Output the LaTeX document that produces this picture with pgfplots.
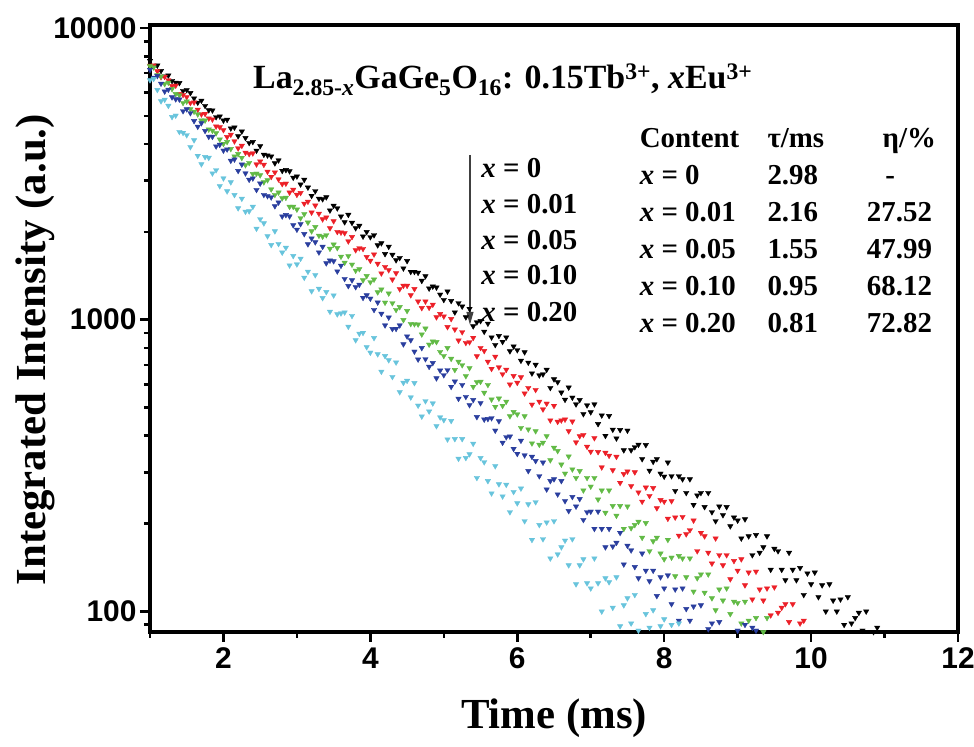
\documentclass[border=0pt]{standalone}
\usepackage{fontspec}
\setmainfont{Liberation Serif}
\newfontfamily\sansfnt{Liberation Sans}
\usepackage{pgfplots}
\pgfplotsset{compat=1.18}
\usetikzlibrary{arrows.meta}
\definecolor{cBlack}{RGB}{0,0,0}
\definecolor{cRed}{RGB}{236,32,40}
\definecolor{cGreen}{RGB}{98,186,70}
\definecolor{cBlue}{RGB}{42,62,158}
\definecolor{cCyan}{RGB}{104,196,220}
\begin{document}
\begin{tikzpicture}
\begin{axis}[
  scale only axis, width=808bp, height=607bp,
  xmin=1, xmax=12, ymode=log, ymin=85, ymax=10240,
  xtick={2,4,6,8,10,12}, xticklabels={2,4,6,8,10,12},
  minor xtick={1,3,5,7,9,11},
  ytick={100,1000,10000}, yticklabels={100,1000,10000},
  minor ytick={90,200,300,400,500,600,700,800,900,2000,3000,4000,5000,6000,7000,8000,9000},
  tick pos=left, tick align=outside,
  major tick length=10bp, minor tick length=6bp,
  tick style={line width=2.6bp, black},
  axis line style={line width=3.2bp},
  every outer x axis line/.append style={line width=3.2bp},
  every outer y axis line/.append style={line width=3.2bp},
  axis on top,
  tick label style={font=\sansfnt\bfseries\fontsize{30}{30}\selectfont},
  xticklabel style={yshift=-2bp},
  xlabel={Time (ms)}, ylabel={Integrated Intensity (a.u.)},
  every axis x label/.style={at={(rel axis cs:0.5,0)}, yshift=-86bp, anchor=center, font=\bfseries\fontsize{43}{43}\selectfont},
  every axis y label/.style={at={(rel axis cs:0,0.465)}, xshift=-115bp, rotate=90, anchor=center, font=\bfseries\fontsize{43}{43}\selectfont},
  mark size=3.1bp,
]
\coordinate (O) at (rel axis cs:0,0);
% x = 0 (black)
\addplot[only marks, mark=triangle*, mark options={rotate=180, fill=cBlack, draw=cBlack}] coordinates {
(1.00,7720)(1.05,7390)(1.10,7440)(1.15,7130)(1.20,6830)(1.25,6880)(1.30,6590)(1.35,6500)(1.40,6480)(1.45,6090)
(1.50,6130)(1.55,5990)(1.60,5740)(1.65,5550)(1.70,5640)(1.75,5410)(1.80,5230)(1.85,5220)(1.90,4950)(1.95,4980)
(2.00,4820)(2.05,4850)(2.10,4530)(2.15,4560)(2.20,4260)(2.25,4420)(2.30,4200)(2.35,4040)(2.40,4070)(2.45,3800)
(2.50,3940)(2.55,3680)(2.60,3660)(2.65,3630)(2.70,3440)(2.75,3520)(2.80,3240)(2.85,3260)(2.90,3230)(2.95,3070)
(3.00,3100)(3.05,2910)(3.10,3020)(3.15,2840)(3.20,2660)(3.25,2760)(3.30,2600)(3.35,2590)(3.40,2630)(3.45,2370)
(3.50,2460)(3.55,2410)(3.60,2260)(3.65,2160)(3.70,2290)(3.75,2150)(3.80,2060)(3.85,2100)(3.90,1930)(3.95,2000)
(4.00,1920)(4.05,1950)(4.10,1800)(4.15,1830)(4.20,1680)(4.25,1780)(4.30,1670)(4.35,1600)(4.40,1630)(4.45,1500)
(4.50,1590)(4.55,1460)(4.60,1460)(4.65,1450)(4.70,1360)(4.75,1410)(4.80,1280)(4.85,1300)(4.90,1290)(4.95,1220)
(5.00,1170)(5.05,1250)(5.10,1160)(5.15,1060)(5.20,1140)(5.25,1110)(5.30,1020)(5.35,1090)(5.40,950)(5.45,980)
(5.50,990)(5.55,910)(5.60,970)(5.65,870)(5.70,820)(5.75,880)(5.80,840)(5.85,870)(5.90,780)(5.95,810)
(6.00,787)(6.05,724)(6.10,774)(6.15,713)(6.20,655)(6.25,701)(6.30,645)(6.35,650)(6.40,674)(6.45,584)
(6.50,625)(6.55,611)(6.60,563)(6.65,532)(6.70,586)(6.75,541)(6.80,513)(6.85,531)(6.90,475)(6.95,509)
(7.00,482)(7.05,513)(7.10,439)(7.15,470)(7.20,400)(7.25,468)(7.30,420)(7.35,392)(7.40,419)(7.45,357)
(7.50,417)(7.55,357)(7.60,366)(7.65,373)(7.70,333)(7.75,372)(7.80,304)(7.85,326)(7.90,333)(7.95,297)
(8.00,290)(8.05,324)(8.10,291)(8.15,259)(8.20,291)(8.25,284)(8.30,255)(8.35,284)(8.40,232)(8.45,250)
(8.50,255)(8.55,228)(8.60,255)(8.65,219)(8.70,204)(8.75,229)(8.80,214)(8.85,228)(8.90,196)(8.95,210)
(9.00,205)(9.05,178)(9.10,207)(9.15,181)(9.20,156)(9.25,183)(9.30,159)(9.35,166)(9.40,181)(9.45,139)
(9.50,164)(9.55,161)(9.60,139)(9.65,128)(9.70,159)(9.75,139)(9.80,128)(9.85,141)(9.90,114)(9.95,135)
(10.00,124)(10.05,136)(10.10,112)(10.15,123)(10.20,100)(10.25,124)(10.30,109)(10.35,100)(10.40,110)(10.45,90)
(10.50,112)(10.55,91)(10.60,95)(10.65,99)(10.70,86)(10.75,100)(10.80,77)(10.85,85)(10.90,88)
};
% x = 0.01 (red)
\addplot[only marks, mark=triangle*, mark options={rotate=180, fill=cRed, draw=cRed}] coordinates {
(1.00,7430)(1.05,7450)(1.10,7110)(1.15,6790)(1.20,6810)(1.25,6630)(1.30,6330)(1.35,6350)(1.40,5940)(1.45,5900)
(1.50,5800)(1.55,5540)(1.60,5560)(1.65,5250)(1.70,5060)(1.75,5080)(1.80,4900)(1.85,4860)(1.90,4600)(1.95,4570)
(2.00,4470)(2.05,4230)(2.10,4310)(2.15,4090)(2.20,3870)(2.25,3950)(2.30,3740)(2.35,3700)(2.40,3720)(2.45,3410)
(2.50,3490)(2.55,3400)(2.60,3220)(2.65,3090)(2.70,3200)(2.75,3030)(2.80,2920)(2.85,2930)(2.90,2730)(2.95,2790)
(3.00,2682)(3.05,2721)(3.10,2501)(3.15,2540)(3.20,2332)(3.25,2464)(3.30,2311)(3.35,2210)(3.40,2243)(3.45,2060)
(3.50,2177)(3.55,2001)(3.60,1992)(3.65,1982)(3.70,1857)(3.75,1923)(3.80,1732)(3.85,1760)(3.90,1750)(3.95,1642)
(4.00,1594)(4.05,1675)(4.10,1556)(4.15,1442)(4.20,1518)(4.25,1480)(4.30,1374)(4.35,1444)(4.40,1274)(4.45,1308)
(4.50,1308)(4.55,1214)(4.60,1275)(4.65,1155)(4.70,1097)(4.75,1155)(4.80,1100)(4.85,1127)(4.90,1020)(4.95,1047)
(5.00,1027)(5.05,944)(5.10,1006)(5.15,926)(5.20,849)(5.25,907)(5.30,833)(5.35,838)(5.40,867)(5.45,750)
(5.50,801)(5.55,782)(5.60,718)(5.65,679)(5.70,747)(5.75,687)(5.80,651)(5.85,674)(5.90,600)(5.95,642)
(6.00,608)(6.05,635)(6.10,559)(6.15,584)(6.20,512)(6.25,575)(6.30,524)(6.35,493)(6.40,516)(6.45,452)
(6.50,507)(6.55,447)(6.60,452)(6.65,455)(6.70,415)(6.75,448)(6.80,380)(6.85,399)(6.90,403)(6.95,367)
(7.00,353)(7.05,393)(7.10,352)(7.15,312)(7.20,350)(7.25,342)(7.30,305)(7.35,339)(7.40,276)(7.45,296)
(7.50,302)(7.55,269)(7.60,300)(7.65,256)(7.70,238)(7.75,266)(7.80,249)(7.85,265)(7.90,226)(7.95,241)
(8.00,238)(8.05,208)(8.10,239)(8.15,210)(8.20,182)(8.25,211)(8.30,184)(8.35,190)(8.40,205)(8.45,161)
(8.50,186)(8.55,181)(8.60,159)(8.65,146)(8.70,178)(8.75,156)(8.80,144)(8.85,156)(8.90,129)(8.95,149)
(9.00,138)(9.05,151)(9.10,123)(9.15,136)(9.20,110)(9.25,137)(9.30,119)(9.35,109)(9.40,120)(9.45,97)
(9.50,121)(9.55,99)(9.60,103)(9.65,106)(9.70,92)(9.75,106)(9.80,82)(9.85,91)(9.90,93)(9.95,81)
};
% x = 0.05 (green)
\addplot[only marks, mark=triangle*, mark options={rotate=180, fill=cGreen, draw=cGreen}] coordinates {
(1.00,7400)(1.05,7330)(1.10,6900)(1.15,6830)(1.20,6430)(1.25,6500)(1.30,6180)(1.35,5940)(1.40,5880)(1.45,5540)
(1.50,5600)(1.55,5270)(1.60,5170)(1.65,5060)(1.70,4820)(1.75,4820)(1.80,4490)(1.85,4450)(1.90,4360)(1.95,4150)
(2.00,4010)(2.05,4070)(2.10,3850)(2.15,3630)(2.20,3700)(2.25,3590)(2.30,3390)(2.35,3450)(2.40,3160)(2.45,3170)
(2.50,3130)(2.55,2960)(2.60,3010)(2.65,2800)(2.70,2680)(2.75,2730)(2.80,2610)(2.85,2620)(2.90,2440)(2.95,2440)
(3.00,2387)(3.05,2230)(3.10,2303)(3.15,2154)(3.20,2011)(3.25,2079)(3.30,1942)(3.35,1928)(3.40,1951)(3.45,1752)
(3.50,1811)(3.55,1762)(3.60,1646)(3.65,1569)(3.70,1653)(3.75,1546)(3.80,1474)(3.85,1492)(3.90,1366)(3.95,1412)
(4.00,1346)(4.05,1374)(4.10,1242)(4.15,1270)(4.20,1145)(4.25,1231)(4.30,1140)(4.35,1081)(4.40,1106)(4.45,998)
(4.50,1072)(4.55,968)(4.60,966)(4.65,964)(4.70,891)(4.75,933)(4.80,822)(4.85,842)(4.90,839)(4.95,776)
(5.00,752)(5.05,800)(5.10,735)(5.15,673)(5.20,718)(5.25,699)(5.30,641)(5.35,683)(5.40,589)(5.45,611)
(5.50,613)(5.55,562)(5.60,598)(5.65,533)(5.70,503)(5.75,537)(5.80,507)(5.85,524)(5.90,467)(5.95,483)
(6.00,474)(6.05,426)(6.10,467)(6.15,421)(6.20,377)(6.25,415)(6.30,373)(6.35,379)(6.40,399)(6.45,330)
(6.50,364)(6.55,355)(6.60,319)(6.65,297)(6.70,340)(6.75,307)(6.80,287)(6.85,303)(6.90,260)(6.95,287)
(7.00,268)(7.05,287)(7.10,242)(7.15,260)(7.20,218)(7.25,260)(7.30,230)(7.35,213)(7.40,230)(7.45,192)
(7.50,229)(7.55,193)(7.60,198)(7.65,203)(7.70,179)(7.75,201)(7.80,161)(7.85,174)(7.90,179)(7.95,158)
(8.00,151)(8.05,176)(8.10,153)(8.15,132)(8.20,155)(8.25,152)(8.30,131)(8.35,152)(8.40,117)(8.45,130)
(8.50,134)(8.55,116)(8.60,134)(8.65,111)(8.70,101)(8.75,119)(8.80,109)(8.85,120)(8.90,98)(8.95,108)
(9.00,107)(9.05,91)(9.10,108)(9.15,93)(9.20,78)(9.25,95)(9.30,81)(9.35,85)(9.40,95)(9.45,70)
};
% x = 0.10 (blue)
\addplot[only marks, mark=triangle*, mark options={rotate=180, fill=cBlue, draw=cBlue}] coordinates {
(1.00,7190)(1.05,6760)(1.10,6850)(1.15,6450)(1.20,6060)(1.25,6150)(1.30,5790)(1.35,5700)(1.40,5690)(1.45,5190)
(1.50,5270)(1.55,5110)(1.60,4800)(1.65,4590)(1.70,4720)(1.75,4440)(1.80,4240)(1.85,4240)(1.90,3930)(1.95,3980)
(2.00,3802)(2.05,3838)(2.10,3509)(2.15,3545)(2.20,3238)(2.25,3405)(2.30,3177)(2.35,3021)(2.40,3052)(2.45,2788)
(2.50,2931)(2.55,2680)(2.60,2655)(2.65,2628)(2.70,2451)(2.75,2524)(2.80,2261)(2.85,2286)(2.90,2262)(2.95,2110)
(3.00,2037)(3.05,2128)(3.10,1968)(3.15,1815)(3.20,1899)(3.25,1844)(3.30,1702)(3.35,1779)(3.40,1562)(3.45,1596)
(3.50,1588)(3.55,1465)(3.60,1532)(3.65,1381)(3.70,1305)(3.75,1366)(3.80,1294)(3.85,1319)(3.90,1189)(3.95,1213)
(4.00,1182)(4.05,1081)(4.10,1146)(4.15,1049)(4.20,957)(4.25,1018)(4.30,930)(4.35,931)(4.40,957)(4.45,824)
(4.50,877)(4.55,851)(4.60,778)(4.65,731)(4.70,800)(4.75,733)(4.80,690)(4.85,711)(4.90,630)(4.95,670)
(5.00,646)(5.05,672)(5.10,589)(5.15,614)(5.20,536)(5.25,598)(5.30,544)(5.35,510)(5.40,531)(5.45,464)
(5.50,518)(5.55,455)(5.60,457)(5.65,460)(5.70,417)(5.75,449)(5.80,379)(5.85,396)(5.90,398)(5.95,361)
(6.00,347)(6.05,385)(6.10,343)(6.15,303)(6.20,339)(6.25,328)(6.30,291)(6.35,324)(6.40,262)(6.45,280)
(6.50,284)(6.55,252)(6.60,280)(6.65,239)(6.70,221)(6.75,247)(6.80,229)(6.85,243)(6.90,206)(6.95,219)
(7.00,220)(7.05,192)(7.10,220)(7.15,192)(7.20,166)(7.25,192)(7.30,167)(7.35,172)(7.40,186)(7.45,145)
(7.50,168)(7.55,162)(7.60,142)(7.65,130)(7.70,158)(7.75,138)(7.80,127)(7.85,138)(7.90,113)(7.95,131)
(8.00,120)(8.05,133)(8.10,106)(8.15,119)(8.20,93)(8.25,120)(8.30,102)(8.35,93)(8.40,104)(8.45,82)
(8.50,105)(8.55,84)(8.60,87)(8.65,91)(8.70,77)(8.75,92)(8.80,68)(8.85,77)(8.90,80)(8.95,68)
(9.00,86)(9.05,69)(9.10,90)(9.15,61)(9.20,88)(9.25,86)
};
% x = 0.20 (cyan)
\addplot[only marks, mark=triangle*, mark options={rotate=180, fill=cCyan, draw=cCyan}] coordinates {
(1.00,6625)(1.05,6699)(1.10,6137)(1.15,5613)(1.20,5682)(1.25,5414)(1.30,4957)(1.35,5012)(1.40,4407)(1.45,4374)
(1.50,4295)(1.55,3908)(1.60,4126)(1.65,3647)(1.70,3414)(1.75,3614)(1.80,3592)(1.85,3176)(1.90,3258)(1.95,2873)
(2.00,3054)(2.05,2757)(2.10,2961)(2.15,2679)(2.20,2412)(2.25,2600)(2.30,2347)(2.35,2355)(2.40,2440)(2.45,2053)
(2.50,2213)(2.55,2142)(2.60,1934)(2.65,1805)(2.70,2011)(2.75,1820)(2.80,1700)(2.85,1766)(2.90,1536)(2.95,1655)
(3.00,1549)(3.05,1620)(3.10,1394)(3.15,1462)(3.20,1253)(3.25,1423)(3.30,1277)(3.35,1187)(3.40,1245)(3.45,1066)
(3.50,1212)(3.55,1044)(3.60,1052)(3.65,1060)(3.70,947)(3.75,1031)(3.80,851)(3.85,896)(3.90,902)(3.95,806)
(4.00,772)(4.05,866)(4.10,762)(4.15,664)(4.20,751)(4.25,727)(4.30,637)(4.35,714)(4.40,565)(4.45,608)
(4.50,618)(4.55,542)(4.60,607)(4.65,508)(4.70,466)(4.75,526)(4.80,485)(4.85,517)(4.90,432)(4.95,463)
(5.00,453)(5.05,389)(5.10,450)(5.15,390)(5.20,334)(5.25,390)(5.30,336)(5.35,346)(5.40,376)(5.45,287)
(5.50,336)(5.55,325)(5.60,280)(5.65,254)(5.70,315)(5.75,273)(5.80,248)(5.85,272)(5.90,219)(5.95,257)
(6.00,235)(6.05,264)(6.10,204)(6.15,233)(6.20,176)(6.25,237)(6.30,198)(6.35,177)(6.40,202)(6.45,152)
(6.50,204)(6.55,157)(6.60,166)(6.65,175)(6.70,144)(6.75,177)(6.80,124)(6.85,144)(6.90,151)(6.95,125)
(7.00,120)(7.05,152)(7.10,125)(7.15,100)(7.20,130)(7.25,126)(7.30,103)(7.35,131)(7.40,89)(7.45,105)
(7.50,111)(7.55,91)(7.60,114)(7.65,86)(7.70,76)(7.75,98)(7.80,88)(7.85,101)(7.90,76)(7.95,89)
(8.00,94)(8.05,71)(8.10,90)(8.15,74)(8.20,91)(8.25,64)
};
% annotations
\node[anchor=base west, font=\bfseries\fontsize{34}{34}\selectfont, inner sep=0pt] at (rel axis cs:0.1275,0.896)
  {La\textsubscript{2.85-\textit{x}}GaGe\textsubscript{5}O\textsubscript{16}: 0.15Tb\textsuperscript{3+}, \textit{x}Eu\textsuperscript{3+}};
\draw[line width=1.2bp, black!75, -{Triangle[length=13bp,width=7bp]}] (rel axis cs:0.396,0.786) -- (rel axis cs:0.396,0.506);
\begin{scope}[every node/.style={font=\bfseries\fontsize{29}{29}\selectfont, inner sep=0pt}]
\node[anchor=base west] at (rel axis cs:0.41,0.748) {\textit{x} = 0};
\node[anchor=base west] at (rel axis cs:0.41,0.689) {\textit{x} = 0.01};
\node[anchor=base west] at (rel axis cs:0.41,0.630) {\textit{x} = 0.05};
\node[anchor=base west] at (rel axis cs:0.41,0.572) {\textit{x} = 0.10};
\node[anchor=base west] at (rel axis cs:0.41,0.512) {\textit{x} = 0.20};
\node[anchor=base west] at (rel axis cs:0.606,0.799) {Content};
\node[anchor=base west] at (rel axis cs:0.764,0.799) {τ/ms};
\node[anchor=base east] at (rel axis cs:0.973,0.799) {η/\%};
\node[anchor=base west] at (rel axis cs:0.606,0.738) {\textit{x} = 0};
\node[anchor=base west] at (rel axis cs:0.606,0.677) {\textit{x} = 0.01};
\node[anchor=base west] at (rel axis cs:0.606,0.616) {\textit{x} = 0.05};
\node[anchor=base west] at (rel axis cs:0.606,0.555) {\textit{x} = 0.10};
\node[anchor=base west] at (rel axis cs:0.606,0.494) {\textit{x} = 0.20};
\node[anchor=base west] at (rel axis cs:0.764,0.738) {2.98};
\node[anchor=base west] at (rel axis cs:0.764,0.677) {2.16};
\node[anchor=base west] at (rel axis cs:0.764,0.616) {1.55};
\node[anchor=base west] at (rel axis cs:0.764,0.555) {0.95};
\node[anchor=base west] at (rel axis cs:0.764,0.494) {0.81};
\node[anchor=base] at (rel axis cs:0.916,0.738) {-};
\node[anchor=base east] at (rel axis cs:0.968,0.677) {27.52};
\node[anchor=base east] at (rel axis cs:0.968,0.616) {47.99};
\node[anchor=base east] at (rel axis cs:0.968,0.555) {68.12};
\node[anchor=base east] at (rel axis cs:0.968,0.494) {72.82};
\end{scope}
\end{axis}
\pgfresetboundingbox
\useasboundingbox (O) ++(-150bp,-115bp) rectangle ++(974bp,747bp);
\end{tikzpicture}
\end{document}
